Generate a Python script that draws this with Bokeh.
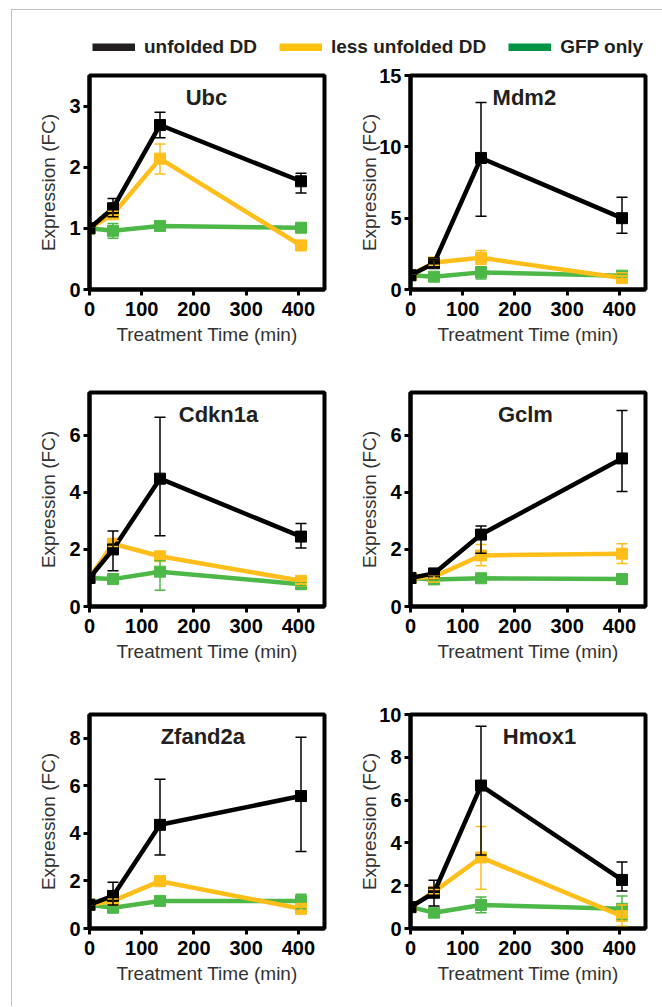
from bokeh.plotting import figure
from bokeh.models import Range1d, FixedTicker, Whisker, TeeHead, ColumnDataSource, Label, Legend, LegendItem
from bokeh.layouts import column, row
from bokeh.embed import file_html
from bokeh.resources import INLINE

# ---------------- data ----------------
TIME = [0, 45, 135, 405]
SERIES = ["unfolded DD", "less unfolded DD", "GFP only"]
GENES = ["Ubc", "Mdm2", "Cdkn1a", "Gclm", "Zfand2a", "Hmox1"]
Y_MAX = [3.5, 15, 7.5, 7.5, 9, 10]
Y_TICKS = [[0, 1, 2, 3], [0, 5, 10, 15], [0, 2, 4, 6], [0, 2, 4, 6], [0, 2, 4, 6, 8], [0, 2, 4, 6, 8, 10]]
X_TICKS = [0, 100, 200, 300, 400]

# means per series: unfolded DD, less unfolded DD, GFP only
UBC_MEAN = [[1.0, 1.33, 2.69, 1.77], [1.0, 1.23, 2.14, 0.72], [1.0, 0.96, 1.04, 1.01]]
UBC_ERR_LO = [[0, 0.14, 0.21, 0.19], [0, 0.05, 0.25, 0.08], [0, 0.12, 0.03, 0.03]]
UBC_ERR_HI = [[0, 0.16, 0.21, 0.13], [0, 0.05, 0.24, 0.08], [0, 0.12, 0.03, 0.03]]

MDM2_MEAN = [[1.0, 1.84, 9.22, 5.0], [1.0, 1.9, 2.22, 0.8], [1.0, 0.9, 1.2, 0.97]]
MDM2_ERR_LO = [[0, 0.25, 4.08, 1.06], [0, 0.2, 0.47, 0.15], [0, 0.1, 0.47, 0.1]]
MDM2_ERR_HI = [[0, 0.25, 3.88, 1.46], [0, 0.2, 0.52, 0.15], [0, 0.1, 0.4, 0.1]]

CDKN1A_MEAN = [[1.0, 2.0, 4.48, 2.45], [1.0, 2.2, 1.76, 0.9], [1.0, 0.96, 1.22, 0.78]]
CDKN1A_ERR_LO = [[0, 0.75, 2.0, 0.4], [0, 0.1, 0.1, 0.1], [0, 0.05, 0.65, 0.05]]
CDKN1A_ERR_HI = [[0, 0.65, 2.15, 0.46], [0, 0.1, 0.1, 0.1], [0, 0.05, 0.39, 0.05]]

GCLM_MEAN = [[1.0, 1.16, 2.52, 5.19], [1.0, 1.04, 1.79, 1.85], [1.0, 0.95, 0.99, 0.96]]
GCLM_ERR_LO = [[0, 0.05, 0.65, 1.16], [0, 0.05, 0.36, 0.34], [0, 0.04, 0.04, 0.04]]
GCLM_ERR_HI = [[0, 0.05, 0.3, 1.68], [0, 0.05, 0.38, 0.35], [0, 0.04, 0.04, 0.04]]

ZFAND2A_MEAN = [[1.0, 1.37, 4.36, 5.57], [1.0, 1.16, 1.99, 0.83], [1.0, 0.87, 1.16, 1.16]]
ZFAND2A_ERR_LO = [[0, 0.38, 1.27, 2.33], [0, 0.08, 0.12, 0.2], [0, 0.05, 0.08, 0.33]]
ZFAND2A_ERR_HI = [[0, 0.58, 1.92, 2.47], [0, 0.08, 0.12, 0.21], [0, 0.05, 0.08, 0.28]]

HMOX1_MEAN = [[1.0, 1.67, 6.68, 2.27], [1.0, 1.72, 3.32, 0.58], [1.0, 0.74, 1.1, 0.92]]
HMOX1_ERR_LO = [[0, 0.62, 3.24, 0.52], [0, 0.1, 1.49, 0.47], [0, 0.06, 0.36, 0.5]]
HMOX1_ERR_HI = [[0, 0.58, 2.77, 0.84], [0, 0.1, 1.45, 0.52], [0, 0.06, 0.37, 0.6]]

MEANS = [UBC_MEAN, MDM2_MEAN, CDKN1A_MEAN, GCLM_MEAN, ZFAND2A_MEAN, HMOX1_MEAN]
ERR_LO = [UBC_ERR_LO, MDM2_ERR_LO, CDKN1A_ERR_LO, GCLM_ERR_LO, ZFAND2A_ERR_LO, HMOX1_ERR_LO]
ERR_HI = [UBC_ERR_HI, MDM2_ERR_HI, CDKN1A_ERR_HI, GCLM_ERR_HI, ZFAND2A_ERR_HI, HMOX1_ERR_HI]

# ---------------- style ----------------
FONT = "Liberation Sans"
LINE_COLORS = ["#000000", "#FFBE1A", "#4DB848"]
LEGEND_COLORS = ["#231F20", "#FFC20E", "#009444"]
TITLE_X = [224, 218, 247, 220, 217, 247]
FRAME_W, FRAME_H = 235, 214
BORDER_LEFT, BORDER_RIGHT, BORDER_TOP = 77, 9, 15
ROW_BOTTOM = [88, 93, 78]


def make_panel(i):
    ymax = Y_MAX[i]
    p = figure(frame_width=FRAME_W, frame_height=FRAME_H,
               x_range=Range1d(0, 450), y_range=Range1d(0, ymax),
               output_backend="svg", toolbar_location=None,
               min_border_left=BORDER_LEFT, min_border_right=BORDER_RIGHT,
               min_border_top=BORDER_TOP, min_border_bottom=ROW_BOTTOM[i // 2],
               background_fill_color="white", border_fill_color="white")
    p.outline_line_color = "black"
    p.outline_line_width = 4
    p.xgrid.visible = False
    p.ygrid.visible = False

    for ax in (p.xaxis[0], p.yaxis[0]):
        ax.axis_line_width = 4
        ax.axis_line_color = "black"
        ax.major_tick_line_width = 3
        ax.major_tick_line_color = "black"
        ax.major_tick_out = 6
        ax.major_tick_in = 0
        ax.minor_tick_line_color = None
        ax.major_label_text_font = FONT
        ax.major_label_text_font_style = "bold"
        ax.major_label_text_font_size = "20px"
        ax.major_label_text_color = "black"
        ax.axis_label_text_font = FONT
        ax.axis_label_text_font_style = "normal"
        ax.axis_label_text_font_size = "19px"
        ax.axis_label_text_color = "#333333"

    p.xaxis.ticker = FixedTicker(ticks=X_TICKS)
    p.yaxis.ticker = FixedTicker(ticks=Y_TICKS[i])
    p.xaxis.axis_label = "Treatment Time (min)"
    p.yaxis.axis_label = "Expression (FC)"
    p.xaxis.major_label_standoff = 6
    p.xaxis.axis_label_standoff = 5
    p.yaxis.major_label_standoff = 3
    two_digit = max(Y_TICKS[i]) >= 10
    p.yaxis.axis_label_standoff = -4 if two_digit else 7

    # draw series: GFP first (bottom), unfolded DD last (top)
    for s in (2, 1, 0):
        mean = MEANS[i][s]
        lo = [m - e for m, e in zip(mean, ERR_LO[i][s])]
        hi = [m + e for m, e in zip(mean, ERR_HI[i][s])]
        src = ColumnDataSource(dict(x=TIME, y=mean, lower=lo, upper=hi))
        w = Whisker(base="x", lower="lower", upper="upper", dimension="height", source=src,
                    line_color=LINE_COLORS[s], line_width=1.5, level="glyph",
                    upper_head=TeeHead(size=11, line_color=LINE_COLORS[s], line_width=1.5),
                    lower_head=TeeHead(size=11, line_color=LINE_COLORS[s], line_width=1.5))
        p.add_layout(w)
        p.line("x", "y", source=src, line_color=LINE_COLORS[s], line_width=4.5)
        p.scatter("x", "y", source=src, marker="square", size=11,
                  fill_color=LINE_COLORS[s], line_color=LINE_COLORS[s])

    title_y = ymax * (1 - 22.0 / FRAME_H)
    p.add_layout(Label(x=TITLE_X[i], y=title_y, text=GENES[i], text_align="center",
                       text_baseline="middle", text_font=FONT, text_font_style="bold",
                       text_font_size="22px", text_color="#231F20"))
    return p


# legend figure (the swatch lines lie outside the visible range)
leg = figure(width=650, height=50, x_range=Range1d(0, 1), y_range=Range1d(0, 1),
             output_backend="svg", toolbar_location=None,
             x_axis_location=None, y_axis_location=None,
             min_border=0, outline_line_color=None)
leg.xgrid.visible = False
leg.ygrid.visible = False
items = []
for s in range(3):
    r = leg.line(x=[2, 3], y=[2, 2], line_color=LEGEND_COLORS[s], line_width=8)
    items.append(LegendItem(label=SERIES[s], renderers=[r]))
legend = Legend(items=items, orientation="horizontal", location=(80, 2),
                glyph_width=43, glyph_height=8, label_standoff=9, spacing=22,
                padding=0, margin=0, border_line_color=None, background_fill_alpha=0,
                label_text_font=FONT, label_text_font_style="bold",
                label_text_font_size="19px", label_text_color="#231F20")
leg.add_layout(legend)

panels = [make_panel(i) for i in range(6)]
layout = column(leg, row(panels[0], panels[1]), row(panels[2], panels[3]), row(panels[4], panels[5]),
                margin=(9, 0, 0, 11),
                styles={"border-left": "1px solid #c0c0c0", "border-top": "1px solid #c0c0c0"})

open("out.html", "w").write(file_html(layout, INLINE))
